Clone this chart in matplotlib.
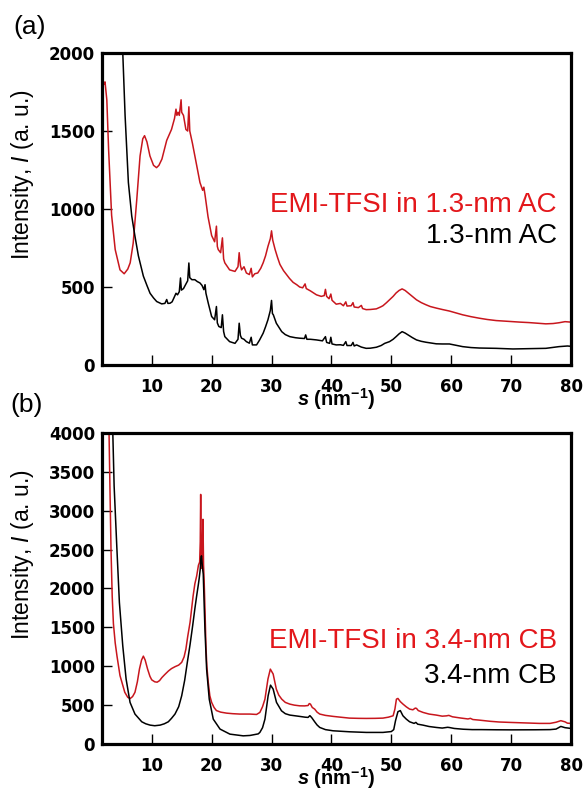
import numpy as np
import matplotlib as mpl
mpl.use("Agg")
import matplotlib.pyplot as plt

mpl.rcParams["mathtext.fontset"] = "custom"
mpl.rcParams["mathtext.rm"] = "Liberation Sans:bold"
mpl.rcParams["mathtext.it"] = "Liberation Sans:bold:italic"
mpl.rcParams["mathtext.sf"] = "Liberation Sans:italic"

RED = "#c8161d"
TXT_RED = "#e3171b"

# ---- panel (a): 1.3-nm AC ----
s_a_red = [2.0, 2.2, 2.5, 2.8, 3.3, 3.9, 4.7, 5.4, 6.0, 6.4, 6.9, 7.5, 8.05, 8.5, 8.8,
           9.2, 9.7, 10.3, 10.8, 11.2, 11.7, 12.5, 13.3, 13.8, 14.05, 14.2, 14.4, 14.6,
           14.9, 15.0, 15.3, 15.7, 16.0, 16.2, 16.35, 16.8, 17.2, 17.6, 18.05, 18.5,
           18.7, 18.9, 19.4, 20.0, 20.5, 20.8, 20.95, 21.1, 21.5, 21.8, 22.0, 22.2,
           23.0, 23.9, 24.4, 24.6, 24.8, 25.0, 25.4, 25.8, 26.3, 26.6, 26.8, 27.2,
           27.7, 28.2, 28.6, 29.0, 29.4, 29.8, 30.0, 30.2, 30.6, 31.0, 31.4, 32.0,
           32.5, 33.0, 33.6, 34.2, 34.7, 35.2, 35.6, 35.8, 36.5, 37.5, 38.3, 38.8,
           39.0, 39.2, 39.6, 39.9, 40.1, 40.8, 41.5, 42.0, 42.4, 42.6, 43.3, 43.6,
           43.8, 44.5, 45.0, 45.2, 45.8, 46.5, 47.5, 48.2, 48.6, 49.2, 49.7, 50.3,
           50.8, 51.3, 51.8, 52.3, 52.8, 53.5, 54.2, 55.0, 55.8, 56.5, 57.5, 58.5,
           59.7, 61.0, 61.9, 63.3, 64.7, 66.0, 67.5, 69.0, 70.3, 71.5, 73.0, 74.5,
           75.8, 77.0, 78.0, 79.0, 80.0]
I_a_red = [1800, 1815, 1700, 1380, 960, 740, 610, 585, 615, 655, 780, 1060, 1340, 1450,
           1470, 1430, 1340, 1280, 1265, 1280, 1320, 1440, 1510, 1580, 1640, 1600,
           1620, 1600, 1700, 1620, 1600, 1510, 1500, 1655, 1500, 1420, 1340, 1260,
           1170, 1120, 1140, 1090, 950, 830, 790, 890, 760, 740, 720, 815, 680, 655,
           610, 600, 630, 720, 640, 610, 630, 590, 580, 620, 565, 585, 590, 620, 655,
           700, 760, 810, 860, 800, 740, 690, 645, 605, 580, 555, 530, 515, 500, 495,
           520, 490, 475, 450, 440, 445, 485, 440, 425, 455, 415, 390, 395, 380, 405,
           378, 380, 400, 372, 368, 382, 362, 355, 356, 360, 372, 380, 400, 418, 440,
           462, 478, 488, 478, 462, 440, 418, 400, 386, 375, 365, 356, 346, 332, 322,
           310, 300, 292, 285, 281, 278, 275, 272, 268, 264, 266, 271, 278, 275]

s_a_blk = [5.1, 5.17, 5.55, 6.1, 6.66, 7.2, 7.77, 8.6, 9.2, 9.72, 10.3, 10.83, 11.66,
           12.2, 12.5, 12.7, 13.05, 13.4, 13.7, 14.05, 14.3, 14.6, 14.8, 14.95, 15.3,
           15.8, 16.0, 16.2, 16.35, 16.7, 17.2, 17.6, 18.05, 18.4, 18.7, 18.9, 19.05,
           19.44, 20.0, 20.5, 20.8, 20.95, 21.2, 21.6, 21.8, 22.0, 22.2, 23.0, 23.9,
           24.4, 24.6, 24.8, 25.0, 25.4, 25.8, 26.3, 26.6, 26.8, 27.5, 28.0, 28.6,
           29.0, 29.4, 29.8, 30.0, 30.15, 30.3, 30.8, 31.7, 32.3, 33.05, 34.0, 34.7,
           35.5, 35.7, 35.9, 36.5, 37.5, 38.5, 39.0, 39.2, 39.7, 39.9, 40.1, 40.8,
           41.5, 42.0, 42.4, 42.6, 43.3, 43.6, 43.8, 44.2, 45.0, 45.8, 46.5, 47.5,
           48.3, 48.9, 49.7, 50.3, 50.8, 51.3, 51.8, 52.3, 52.8, 53.5, 54.2, 55.0,
           55.8, 57.5, 58.5, 59.7, 61.0, 61.9, 63.3, 64.7, 67.5, 70.3, 73.0, 75.8,
           78.0, 79.4, 80.0]
I_a_blk = [2050, 1995, 1600, 1170, 955, 825, 700, 570, 510, 460, 430, 407, 392, 395,
           420, 395, 396, 405, 430, 460, 450, 470, 558, 480, 490, 526, 540, 654, 560,
           547, 547, 535, 526, 510, 483, 515, 460, 396, 311, 290, 375, 270, 247, 240,
           322, 215, 182, 150, 139, 165, 268, 190, 172, 165, 150, 140, 178, 129, 129,
           160, 204, 245, 290, 350, 414, 330, 322, 268, 214, 195, 182, 175, 172, 170,
           193, 165, 165, 161, 155, 182, 145, 139, 178, 135, 129, 130, 126, 150, 125,
           125, 145, 122, 129, 115, 107, 108, 114, 125, 139, 150, 165, 182, 200, 214,
           205, 193, 176, 161, 152, 146, 136, 135, 135, 125, 118, 112, 109, 107, 103,
           105, 107, 118, 122, 120]

# ---- panel (b): 3.4-nm CB ----
s_b_red = [2.85, 3.0, 3.2, 3.4, 3.6, 3.9, 4.2, 4.7, 5.5, 6.0, 6.4, 6.8, 7.2, 7.6, 7.95,
           8.3, 8.6, 8.9, 9.3, 9.7, 10.0, 10.5, 10.9, 11.3, 11.7, 12.2, 12.8, 13.3,
           13.9, 14.5, 15.0, 15.4, 15.7, 16.0, 16.4, 16.9, 17.2, 17.5, 17.8, 18.0,
           18.1, 18.17, 18.25, 18.35, 18.45, 18.55, 18.65, 18.75, 18.9, 19.05, 19.2,
           19.44, 19.7, 20.0, 20.4, 20.8, 21.5, 22.5, 23.5, 24.7, 26.4, 27.5, 28.05,
           28.5, 28.9, 29.4, 29.8, 30.27, 30.8, 31.2, 31.7, 32.3, 33.05, 33.8, 34.7,
           35.5, 36.1, 36.3, 36.5, 36.8, 37.2, 37.6, 38.05, 39.0, 40.3, 41.5, 43.0,
           44.5, 45.8, 47.3, 48.6, 49.5, 50.3, 50.6, 50.85, 51.1, 51.5, 51.95, 52.5,
           53.05, 53.6, 54.0, 54.2, 54.5, 55.3, 56.3, 57.5, 58.5, 59.2, 59.6, 60.2,
           61.5, 62.8, 63.2, 63.6, 64.7, 66.5, 68.0, 69.7, 72.0, 74.7, 76.5, 77.5,
           78.3, 79.0, 79.4, 80.0]
I_b_red = [4100, 3400, 2500, 1900, 1550, 1300, 1130, 880, 665, 600, 585, 610, 665, 800,
           965, 1080, 1130, 1080, 965, 870, 825, 800, 795, 815, 855, 895, 940, 970,
           995, 1015, 1050, 1120, 1220, 1380, 1565, 1900, 2060, 2160, 2300, 2340, 2600,
           3210, 2500, 2260, 2500, 2890, 2300, 2100, 1700, 1260, 1000, 790, 620, 535,
           470, 430, 410, 397, 390, 385, 385, 380, 406, 480, 577, 835, 963, 900, 706,
           630, 577, 535, 513, 500, 491, 490, 495, 520, 513, 470, 449, 410, 385, 368,
           355, 345, 333, 330, 329, 330, 333, 345, 363, 450, 577, 586, 545, 513, 478,
           449, 440, 462, 458, 430, 406, 385, 372, 358, 362, 368, 350, 335, 322, 330,
           315, 307, 292, 283, 278, 272, 265, 265, 280, 300, 285, 268, 265]

s_b_blk = [3.45, 3.5, 3.72, 4.16, 4.6, 5.16, 5.72, 6.38, 7.2, 8.33, 9.0, 9.72, 10.5,
           11.4, 12.1, 12.77, 13.3, 13.88, 14.5, 15.0, 15.5, 15.94, 16.4, 16.83, 17.2,
           17.5, 17.8, 17.94, 18.1, 18.2, 18.3, 18.4, 18.5, 18.6, 18.75, 18.88, 19.16,
           19.6, 20.27, 21.4, 23.05, 25.27, 26.4, 27.77, 28.05, 28.5, 28.9, 29.43,
           29.83, 30.27, 30.83, 31.66, 32.3, 33.05, 34.7, 35.6, 36.1, 36.4, 36.7, 37.2,
           37.6, 38.05, 39.0, 40.27, 43.05, 45.83, 48.6, 50.0, 50.4, 50.7, 51.1, 51.5,
           51.94, 52.5, 53.05, 53.8, 54.1, 54.4, 55.27, 56.3, 57.5, 58.5, 59.4, 59.7,
           60.5, 62.0, 63.5, 65.0, 67.5, 70.0, 74.0, 76.5, 77.5, 78.3, 79.0, 80.0]
I_b_blk = [4100, 4000, 3320, 2550, 1820, 1265, 835, 535, 385, 286, 260, 243, 235, 243,
           260, 286, 330, 385, 480, 620, 820, 1050, 1280, 1520, 1740, 1905, 2060, 2140,
           2250, 2380, 2420, 2330, 2250, 2185, 1800, 1480, 965, 577, 320, 192, 127, 105,
           110, 130, 149, 210, 320, 620, 757, 706, 535, 427, 390, 372, 355, 345, 342,
           365, 340, 286, 245, 213, 185, 170, 157, 149, 149, 160, 185, 300, 415, 430,
           363, 320, 286, 265, 278, 255, 243, 225, 213, 205, 215, 212, 200, 190, 185,
           185, 183, 182, 183, 185, 192, 226, 210, 200]

xticks = [10, 20, 30, 40, 50, 60, 70, 80]
yticks_a = [0, 500, 1000, 1500, 2000]
yticks_b = [0, 500, 1000, 1500, 2000, 2500, 3000, 3500, 4000]

fig = plt.figure(figsize=(5.85, 7.92), dpi=100)
ax1 = fig.add_axes([0.1744, 0.5391, 0.8017, 0.394])
ax2 = fig.add_axes([0.1744, 0.0606, 0.8017, 0.3927])

panels = [
    (ax1, s_a_red, I_a_red, s_a_blk, I_a_blk, yticks_a, 2000,
     "EMI-TFSI in 1.3-nm AC", "1.3-nm AC", 0.491, 0.391),
    (ax2, s_b_red, I_b_red, s_b_blk, I_b_blk, yticks_b, 4000,
     "EMI-TFSI in 3.4-nm CB", "3.4-nm CB", 0.309, 0.196),
]

for ax, sr, ir, sb, ib, yt, ymax, lab_r, lab_b, yr, yb in panels:
    ax.plot(sr, ir, color=RED, lw=1.1)
    ax.plot(sb, ib, color="black", lw=1.1)
    ax.set_xlim(1.7, 80)
    ax.set_ylim(0, ymax)
    ax.set_xticks(xticks)
    ax.set_yticks(yt)
    for sp in ax.spines.values():
        sp.set_linewidth(2.3)
    ax.tick_params(direction="in", length=7, width=1.0, top=False, right=False)
    ax.tick_params(axis="x", pad=9.5)
    ax.tick_params(axis="y", pad=5)
    for t in ax.get_xticklabels() + ax.get_yticklabels():
        t.set_fontfamily("DejaVu Sans")
        t.set_fontweight("bold")
        t.set_fontsize(12)
    ax.set_xlabel(r"$s$ (nm$^{-1}$)", fontfamily="Liberation Sans",
                  fontweight="bold", fontsize=14.5, labelpad=-7)
    ax.set_ylabel(r"Intensity, $\mathsf{I}$ (a. u.)", fontfamily="Liberation Sans",
                  fontsize=16.5)
    ax.yaxis.set_label_coords(-0.14, 0.61)
    ax.text(0.97, yr, lab_r, transform=ax.transAxes, ha="right", va="baseline",
            color=TXT_RED, fontfamily="Liberation Sans", fontsize=20)
    ax.text(0.97, yb, lab_b, transform=ax.transAxes, ha="right", va="baseline",
            color="black", fontfamily="Liberation Sans", fontsize=20)

fig.text(13 / 585, 1 - 27 / 792, "(a)", fontfamily="Liberation Sans", fontsize=19,
         ha="left", va="center")
fig.text(10 / 585, 1 - 405 / 792, "(b)", fontfamily="Liberation Sans", fontsize=19,
         ha="left", va="center")

fig.savefig("out.png", dpi=100)
